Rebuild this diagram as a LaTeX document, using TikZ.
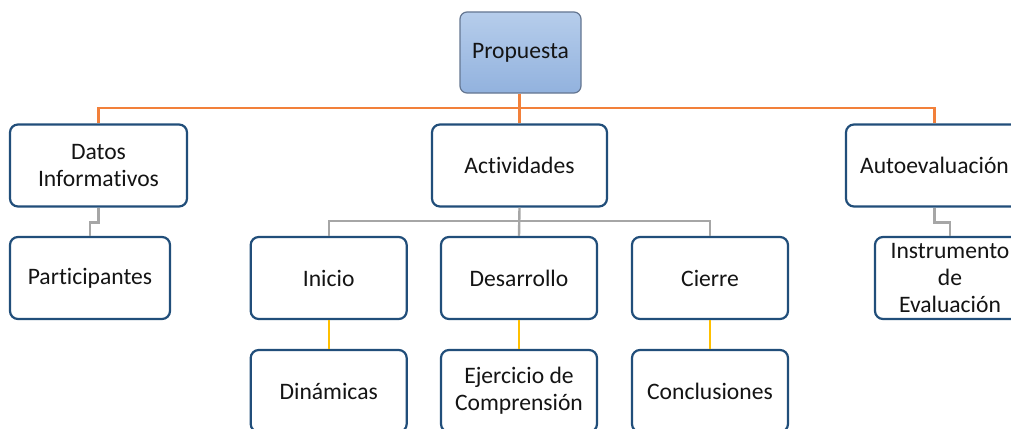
\documentclass[tikz,border=0pt]{standalone}
\usepackage{fontspec}
\setmainfont[Ligatures=NoCommon]{Carlito}
\definecolor{boxblue}{RGB}{33,78,122}
\definecolor{oline}{RGB}{242,128,58}
\definecolor{gline}{RGB}{166,166,166}
\definecolor{yline}{RGB}{255,192,0}
\definecolor{ptop}{RGB}{182,205,235}
\definecolor{pbot}{RGB}{146,178,222}
\definecolor{pborder}{RGB}{100,118,145}
\definecolor{txt}{RGB}{20,20,20}
\tikzset{
  box/.style={draw=boxblue, line width=2.2pt, rounded corners=8pt, fill=white,
    minimum height=82pt, align=center, inner sep=2pt, text=txt,
    font=\fontsize{23.6}{27}\selectfont},
  topbox/.style={draw=pborder, line width=1.2pt, rounded corners=7pt,
    top color=ptop, bottom color=pbot, minimum width=121pt, minimum height=81pt,
    text=txt, font=\fontsize{23.6}{27}\selectfont},
  oconn/.style={draw=oline, line width=2.4pt},
  gconn/.style={draw=gline, line width=2.4pt},
  yconn/.style={draw=yline, line width=2.4pt},
}
\begin{document}
\begin{tikzpicture}[x=1pt,y=-1pt]
\useasboundingbox (0,0) rectangle (1011,428);
\clip (0,0) rectangle (1011,428);
\coordinate (ob) at (519.5,108);
\coordinate (gb) at (519.5,221);
\node[topbox] (P) at (520.5,52.5) {Propuesta};
\node[box, minimum width=177pt] (D) at (98.5,165.5) {Datos\\Informativos};
\node[box, minimum width=175pt] (A) at (519.5,165.5) {Actividades};
\node[box, minimum width=177pt] (Au) at (934.5,165.5) {Autoevaluación};
\node[box, minimum width=160pt] (Pa) at (90,278) {Participantes};
\node[box, minimum width=156pt] (I) at (328.7,278) {Inicio};
\node[box, minimum width=156pt] (De) at (519,278) {Desarrollo};
\node[box, minimum width=156pt] (C) at (710,278) {Cierre};
\node[box, minimum width=150pt] (In) at (950,278) {Instrumento\\de\\Evaluación};
\node[box, minimum width=156pt] (Di) at (328.7,391) {Dinámicas};
\node[box, minimum width=156pt] (Ej) at (519,391) {Ejercicio de\\Comprensión};
\node[box, minimum width=156pt] (Co) at (710,391) {Conclusiones};
\draw[oconn] (D.north) |- (ob) -| (Au.north);
\draw[oconn] (A.north |- P.south) -- (A.north);
\draw[gconn] (I.north) |- (gb) -| (C.north);
\draw[gconn] (A.south) -- (De.north);
\draw[gconn] (D.south) -- ++(0,15) -| (Pa.north);
\draw[gconn] (Au.south) -- ++(0,15) -| (In.north);
\draw[yconn] (I.south) -- (Di.north);
\draw[yconn] (De.south) -- (Ej.north);
\draw[yconn] (C.south) -- (Co.north);
\end{tikzpicture}
\end{document}
